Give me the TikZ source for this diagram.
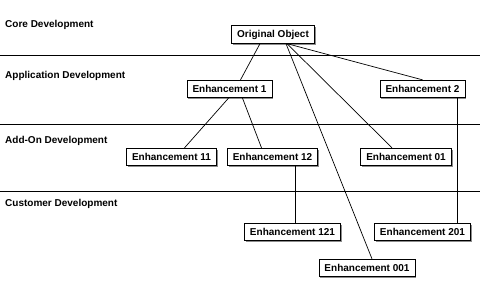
\documentclass[tikz,border=0pt]{standalone}
\usepackage{fontspec}
\setmainfont{Liberation Sans}
\usepackage{tikz}
\usetikzlibrary{positioning,shadows}
\tikzset{
  obj/.style   = {draw, fill=white, line width=0.8pt, font=\bfseries,
                  inner xsep=5.5pt, minimum height=17.5pt,
                  drop shadow={shadow xshift=1.3pt, shadow yshift=-1.3pt,
                               fill=black!45, opacity=1}},
  layer/.style = {anchor=west, font=\bfseries, inner sep=0pt},
  sep/.style   = {line width=0.8pt},
  link/.style  = {line width=0.7pt},
}

\begin{document}
\begin{tikzpicture}[x=1pt, y=-1pt, font=\fontsize{10.8}{12}\selectfont]
  \useasboundingbox (0,0) rectangle (480,288);

  % --- layers ---
  \node[layer] (core) at (5,25)  {Core Development};
  \node[layer] (appl) at (5,76)  {Application Development};
  \node[layer] (addon) at (5,141) {Add-On Development};
  \node[layer] (cust) at (5,204) {Customer Development};
  \coordinate (l1w) at (0,55);  \coordinate (l1e) at (480,55);
  \coordinate (l2w) at (0,124); \coordinate (l2e) at (480,124);
  \coordinate (l3w) at (0,191); \coordinate (l3e) at (480,191);
  \draw[sep] (l1w) -- (l1e);
  \draw[sep] (l2w) -- (l2e);
  \draw[sep] (l3w) -- (l3e);

  % --- objects ---
  \node[obj] (orig) at (273,34.5) {Original Object};
  \node[obj] (e1)   at (229.5,89) {Enhancement 1};
  \node[obj] (e2)   at (422.5,89) {Enhancement 2};
  \node[obj] (e11)  at (171.5,157) {Enhancement 11};
  \node[obj] (e12)  at (272.5,157) {Enhancement 12};
  \node[obj] (e01)  at (406,157) {Enhancement 01};
  \node[obj] (e121) at (292.5,232) {Enhancement 121};
  \node[obj] (e201) at (422.5,232) {Enhancement 201};
  \node[obj] (e001) at (367,268) {Enhancement 001};

  % --- links ---
  \draw[link] ([xshift=-13pt]orig.south) -- ([xshift=11pt]e1.north);
  \draw[link] ([xshift=14pt]orig.south) -- (e2.north);
  \draw[link] ([xshift=14pt]orig.south) -- ([xshift=-14pt]e01.north);
  \draw[link] ([xshift=13pt]orig.south) -- ([xshift=5pt]e001.north);
  \draw[link] ([xshift=-1pt]e1.south) -- ([xshift=13pt]e11.north);
  \draw[link] ([xshift=13pt]e1.south) -- ([xshift=-11pt]e12.north);
  \draw[link] ([xshift=22.5pt]e12.south) -- ([xshift=2.5pt]e121.north);
  \draw[link] ([xshift=34.5pt]e2.south) -- ([xshift=34.5pt]e201.north);
\end{tikzpicture}
\end{document}
